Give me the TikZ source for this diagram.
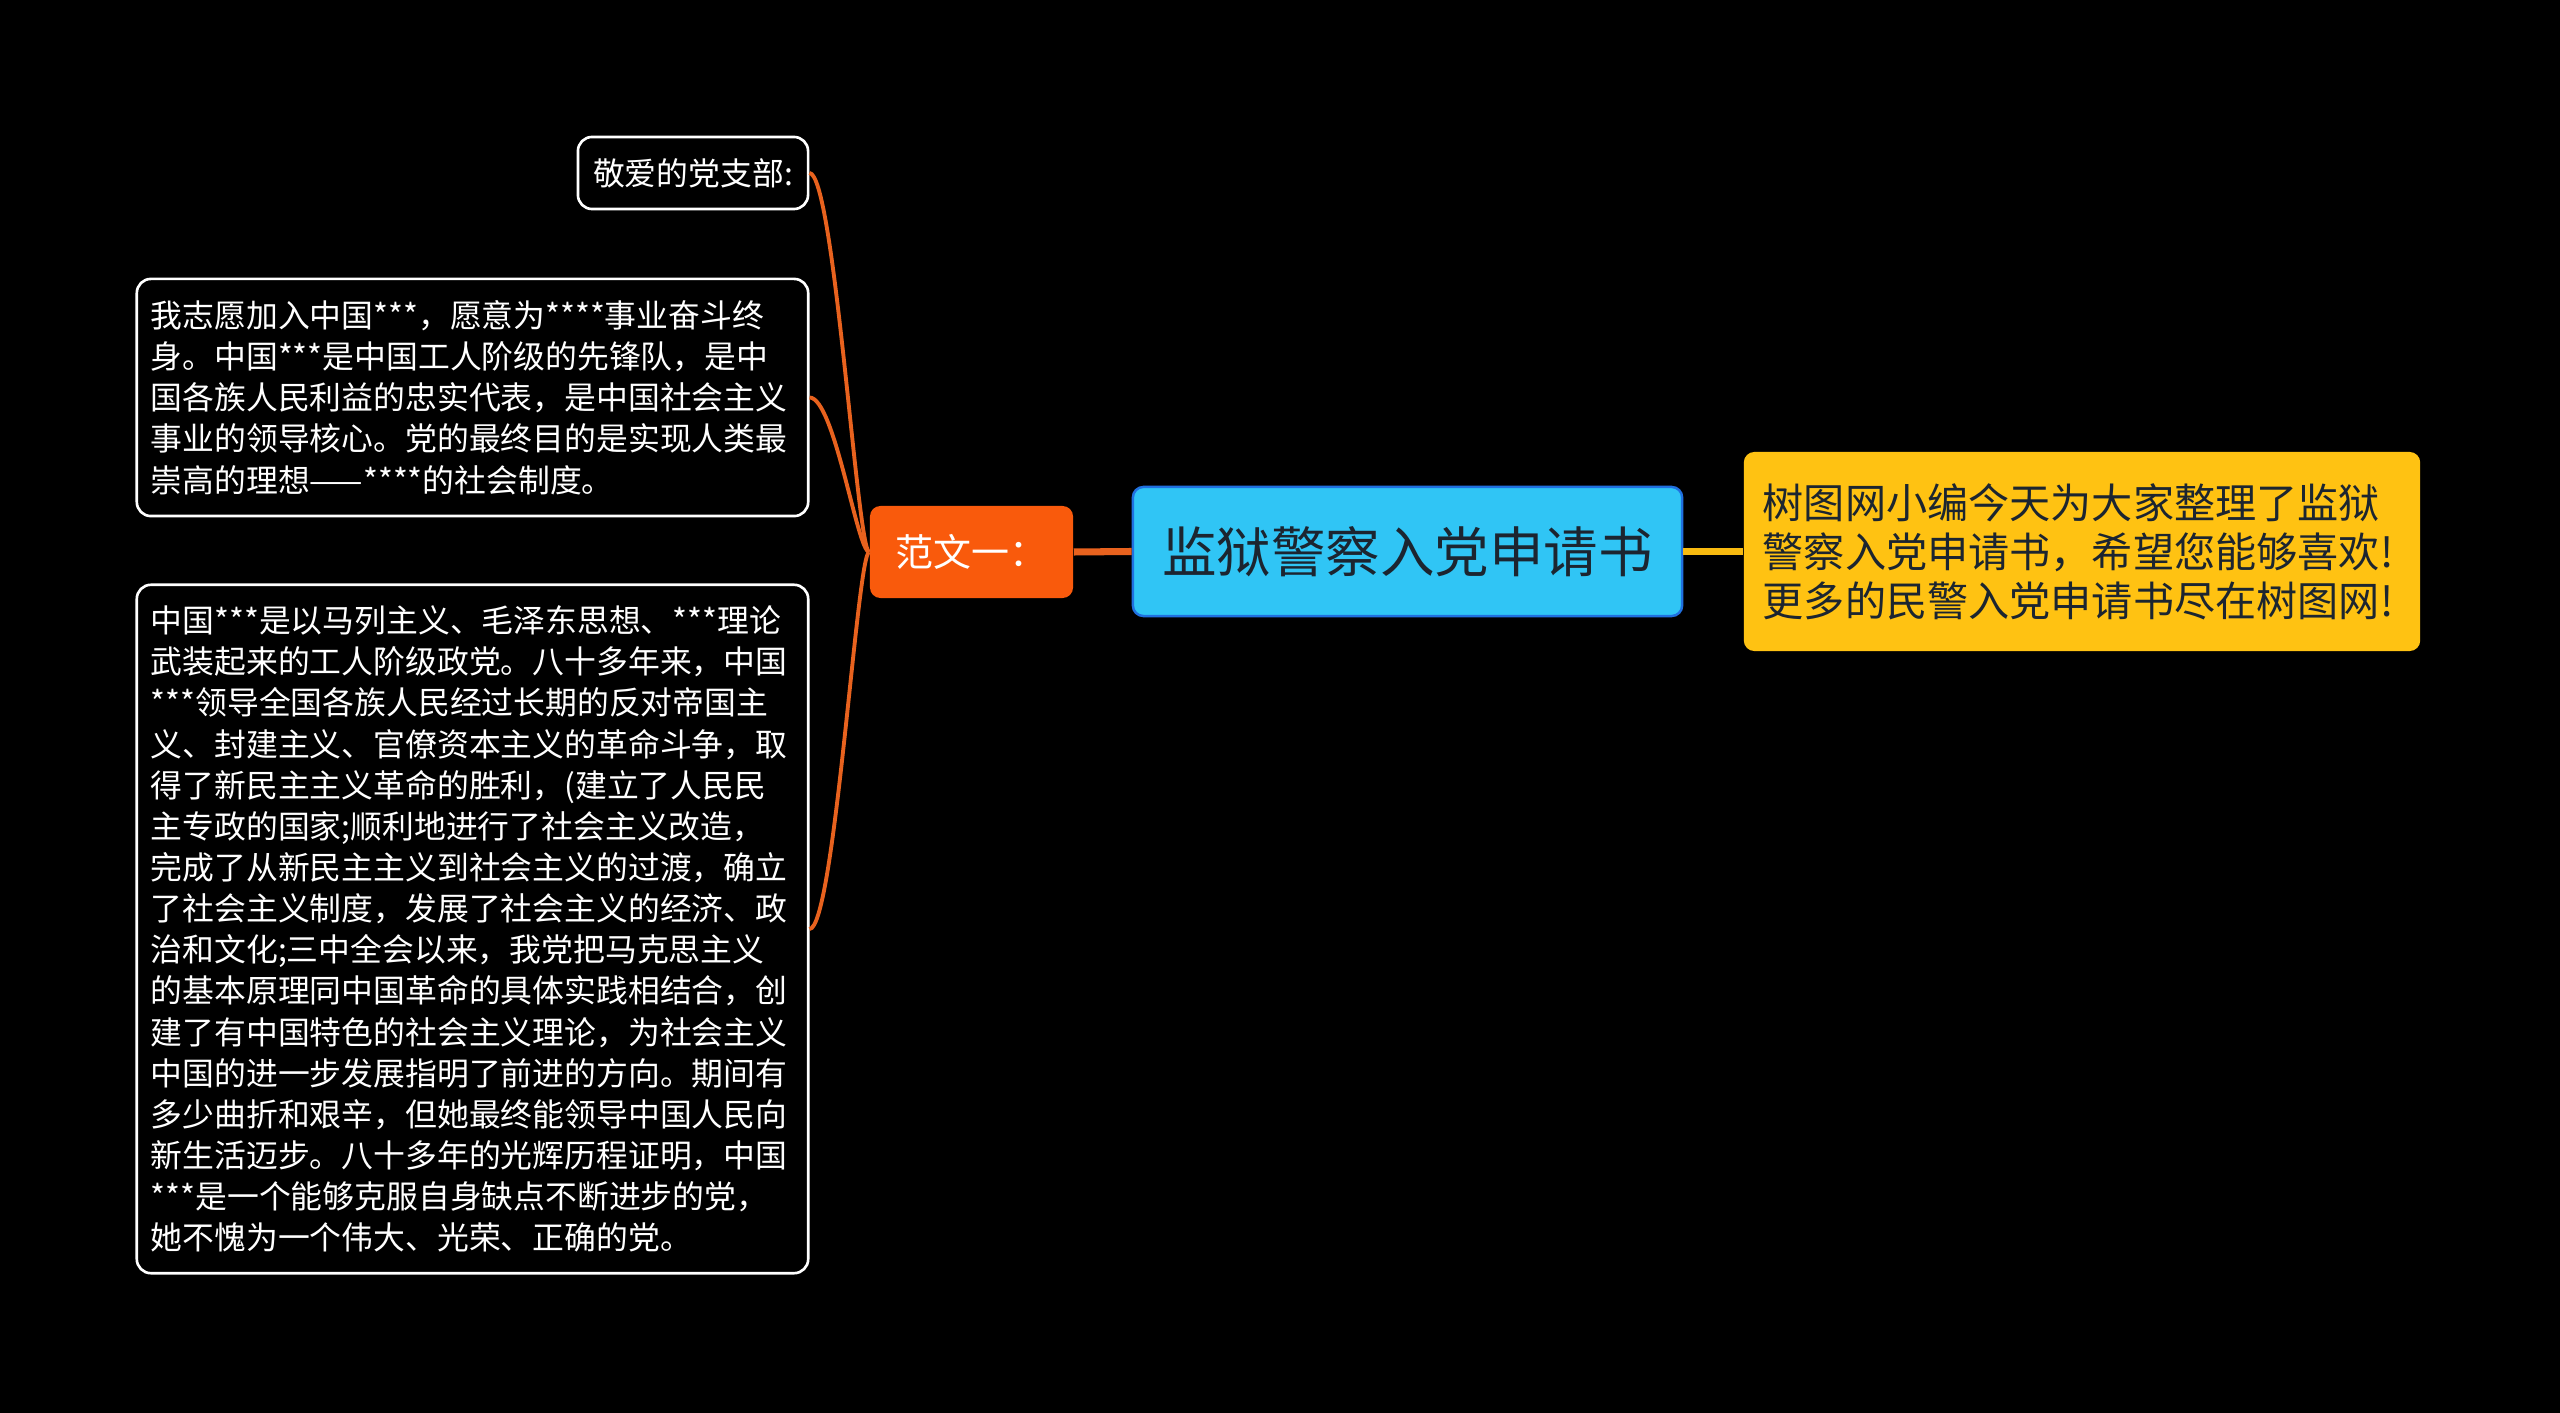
\documentclass[tikz,border=0pt]{standalone}
\usepackage{fontspec}
\setmainfont{Noto Sans CJK SC}
\usetikzlibrary{calc}
\definecolor{bgc}{HTML}{000000}
\definecolor{cyanfill}{HTML}{30C5F5}
\definecolor{cyanedge}{HTML}{2070E0}
\definecolor{orangefill}{HTML}{F95A0C}
\definecolor{yellowfill}{HTML}{FFC212}
\definecolor{orangeline}{HTML}{E8621E}
\definecolor{yellowline}{HTML}{F8BA10}
\definecolor{darktext}{HTML}{1C2530}
\begin{document}
\begin{tikzpicture}[x=0.01cm,y=-0.01cm,
  leafbox/.style={draw=white, line width=0.75pt, fill=black, rounded corners=4pt,
    text=white, font=\fontsize{9.05pt}{11.7pt}\selectfont, align=left},
  rootbox/.style={draw=cyanedge, line width=0.7pt, fill=cyanfill, rounded corners=3pt,
    text=darktext, font=\fontsize{15.5pt}{18pt}\selectfont,
    minimum width=5.49cm, minimum height=1.29cm},
  mainbox/.style={fill=orangefill, rounded corners=3pt, text=white,
    font=\fontsize{10.8pt}{12.5pt}\selectfont,
    minimum width=2.03cm, minimum height=0.92cm},
  notebox/.style={fill=yellowfill, rounded corners=3pt, text=darktext,
    font=\fontsize{11.7pt}{13.95pt}\selectfont, align=left,
    minimum width=6.76cm, minimum height=1.99cm, text width=6.38cm},
  branch/.style={draw=orangeline, line width=1.1pt},
  trunk/.style={draw=orangeline, line width=2pt},
  notelink/.style={draw=yellowline, line width=1.8pt}]
\fill[bgc] (0,0) rectangle (2560,1413);
\useasboundingbox (0,0) rectangle (2560,1413);

\node[rootbox] (root) at (1407.5,551.5) {监狱警察入党申请书};
\node[mainbox] (fan) at (971.5,552) {范文一：};
\node[notebox] (note) at (2082,551.5) {树图网小编今天为大家整理了监狱\\警察入党申请书，希望您能够喜欢!\\更多的民警入党申请书尽在树图网!};

\node[leafbox, minimum width=2.30cm, minimum height=0.72cm, align=center] (b1) at (693,173) {敬爱的党支部:};
\node[leafbox, minimum width=6.71cm, minimum height=2.37cm, text width=6.43cm] (b2) at (472.5,397.5) {我志愿加入中国***，愿意为****事业奋斗终\\身。中国***是中国工人阶级的先锋队，是中\\国各族人民利益的忠实代表，是中国社会主义\\事业的领导核心。党的最终目的是实现人类最\\崇高的理想——****的社会制度。};
\node[leafbox, minimum width=6.71cm, minimum height=6.88cm, text width=6.43cm] (b3) at (472.5,929) {中国***是以马列主义、毛泽东思想、***理论\\武装起来的工人阶级政党。八十多年来，中国\\{}***领导全国各族人民经过长期的反对帝国主\\义、封建主义、官僚资本主义的革命斗争，取\\得了新民主主义革命的胜利，(建立了人民民\\主专政的国家;顺利地进行了社会主义改造，\\完成了从新民主主义到社会主义的过渡，确立\\了社会主义制度，发展了社会主义的经济、政\\治和文化;三中全会以来，我党把马克思主义\\的基本原理同中国革命的具体实践相结合，创\\建了有中国特色的社会主义理论，为社会主义\\中国的进一步发展指明了前进的方向。期间有\\多少曲折和艰辛，但她最终能领导中国人民向\\新生活迈步。八十多年的光辉历程证明，中国\\{}***是一个能够克服自身缺点不断进步的党，\\她不愧为一个伟大、光荣、正确的党。};

\draw[trunk] (root.west) -- (fan.east);
\draw[notelink] (root.east) -- (note.west);
\draw[branch] (b1.east) .. controls +(25,0) and +(-12,0) .. (fan.west);
\draw[branch] (b2.east) .. controls +(25,0) and +(-12,0) .. (fan.west);
\draw[branch] (b3.east) .. controls +(25,0) and +(-12,0) .. (fan.west);
\end{tikzpicture}
\end{document}
